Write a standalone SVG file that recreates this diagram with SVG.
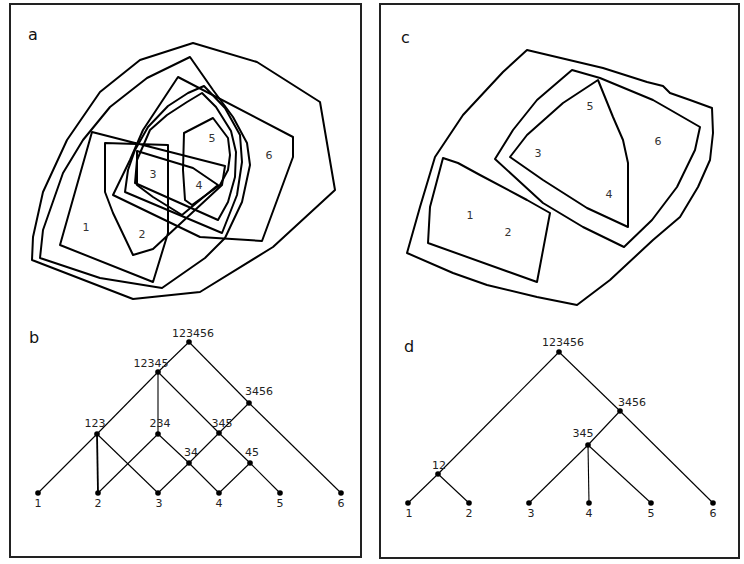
<svg xmlns="http://www.w3.org/2000/svg" width="744" height="564" viewBox="0 0 744 564">
<style>
.frame{fill:none;stroke:#222;stroke-width:2}
.poly{fill:none;stroke:#000;stroke-width:2;stroke-linejoin:round}
.edge{stroke:#000;stroke-width:1.1;fill:none}
.dot{fill:#000}
.pl{font-family:"DejaVu Sans",sans-serif;font-size:16px;fill:#111}
.num{font-family:"DejaVu Sans",sans-serif;font-size:11px;fill:#333;text-anchor:middle}
.tl{font-family:"DejaVu Sans",sans-serif;font-size:11px;fill:#222;text-anchor:middle}
</style>
<rect width="744" height="564" fill="#fff"/>
<rect class="frame" x="10" y="4" width="351" height="553"/>
<rect class="frame" x="380" y="4" width="359" height="554"/>

<!-- Panel a -->
<g id="panel-a">
<text class="pl" x="28" y="40">a</text>
<g id="a-set-123456"><path class="poly" d="M32,260 L33,237 L43,192 L67,140 L100,92 L140,60 L193,43 L257,62 L320,102 L335,190 L273,247 L200,292 L133,299 Z"/></g>
<g id="a-set-12345"><path class="poly" d="M40,258 L43,230 L63,173 L83,140 L110,107 L147,78 L190,57 L213,90 L233,117 L247,143 L250,165 L242,202 L225,238 L205,258 L162,288 L100,278 Z"/></g>
<g id="a-set-3456"><path class="poly" d="M178,77 L293,137 L293,157 L262,241 L200,237 L113,195 L130,160 L143,130 Z"/></g>
<g id="a-set-345"><path class="poly" d="M204,86 L225,108 L240,135 L242,162 L237,195 L222,233 L125,192 L128,170 L135,150 L148,127 L168,106 L188,93 Z"/></g>
<g id="a-set-345b"><path class="poly" d="M202,93 L216,107 L231,131 L236,152 L235,177 L228,202 L218,220 L135,183 L137,160 L150,130 L167,115 L187,102 Z"/></g>
<g id="a-set-123-234"><path class="poly" d="M105,143 L168,145 L168,233 L153,282 L60,245 L92,132 L225,166 L222,185 L153,249 L133,255 L113,213 L105,192 Z"/></g>
<g id="a-set-34"><path class="poly" d="M137,151 L193,168 L218,185 L182,215 L153,197 L137,185 Z"/></g>
<g id="a-set-45"><path class="poly" d="M184,133 L213,118 L228,138 L230,155 L228,170 L220,185 L192,205 L185,200 L183,170 Z"/></g>
<text class="num" x="86" y="231">1</text>
<text class="num" x="142" y="238">2</text>
<text class="num" x="153" y="178">3</text>
<text class="num" x="199" y="189">4</text>
<text class="num" x="212" y="142">5</text>
<text class="num" x="269" y="159">6</text>
</g>

<!-- Panel b -->
<g id="panel-b">
<text class="pl" x="29" y="343">b</text>
<g id="b-edges">
<line class="edge" x1="189" y1="342" x2="158" y2="372"/>
<line class="edge" x1="189" y1="342" x2="249" y2="403"/>
<line class="edge" x1="249" y1="403" x2="341" y2="493"/>
<line class="edge" x1="249" y1="403" x2="219" y2="433"/>
<line class="edge" x1="158" y1="372" x2="97" y2="434"/>
<line class="edge" x1="158" y1="372" x2="158" y2="434"/>
<line class="edge" x1="158" y1="372" x2="219" y2="433"/>
<line class="edge" x1="97" y1="434" x2="38" y2="493"/>
<line class="edge" x1="97" y1="434" x2="98" y2="493" style="stroke-width:1.8"/>
<line class="edge" x1="97" y1="434" x2="158" y2="493"/>
<line class="edge" x1="158" y1="434" x2="98" y2="493"/>
<line class="edge" x1="158" y1="434" x2="189" y2="463"/>
<line class="edge" x1="219" y1="433" x2="189" y2="463"/>
<line class="edge" x1="219" y1="433" x2="250" y2="463"/>
<line class="edge" x1="189" y1="463" x2="158" y2="493"/>
<line class="edge" x1="189" y1="463" x2="219" y2="493"/>
<line class="edge" x1="250" y1="463" x2="219" y2="493"/>
<line class="edge" x1="250" y1="463" x2="280" y2="493"/>
</g>
<g id="b-n123456"><circle class="dot" cx="189" cy="342" r="2.8"/><text class="tl" x="193" y="337">123456</text></g>
<g id="b-n12345"><circle class="dot" cx="158" cy="372" r="2.8"/><text class="tl" x="151" y="367">12345</text></g>
<g id="b-n3456"><circle class="dot" cx="249" cy="403" r="2.8"/><text class="tl" x="259" y="395">3456</text></g>
<g id="b-n123"><circle class="dot" cx="97" cy="434" r="2.8"/><text class="tl" x="95" y="427">123</text></g>
<g id="b-n234"><circle class="dot" cx="158" cy="434" r="2.8"/><text class="tl" x="160" y="427">234</text></g>
<g id="b-n345"><circle class="dot" cx="219" cy="433" r="2.8"/><text class="tl" x="222" y="427">345</text></g>
<g id="b-n34"><circle class="dot" cx="189" cy="463" r="2.8"/><text class="tl" x="191" y="456">34</text></g>
<g id="b-n45"><circle class="dot" cx="250" cy="463" r="2.8"/><text class="tl" x="252" y="456">45</text></g>
<g id="b-n1"><circle class="dot" cx="38" cy="493" r="2.8"/><text class="tl" x="38" y="507">1</text></g>
<g id="b-n2"><circle class="dot" cx="98" cy="493" r="2.8"/><text class="tl" x="98" y="507">2</text></g>
<g id="b-n3"><circle class="dot" cx="158" cy="493" r="2.8"/><text class="tl" x="159" y="507">3</text></g>
<g id="b-n4"><circle class="dot" cx="219" cy="493" r="2.8"/><text class="tl" x="219" y="507">4</text></g>
<g id="b-n5"><circle class="dot" cx="280" cy="493" r="2.8"/><text class="tl" x="280" y="507">5</text></g>
<g id="b-n6"><circle class="dot" cx="341" cy="493" r="2.8"/><text class="tl" x="341" y="507">6</text></g>
</g>

<!-- Panel c -->
<g id="panel-c">
<text class="pl" x="401" y="43">c</text>
<g id="c-set-123456"><path class="poly" d="M527,50 L603,68 L647,82 L663,86 L670,93 L690,100 L712,108 L713,133 L710,160 L698,187 L680,217 L653,240 L610,280 L577,305 L537,297 L487,285 L453,273 L407,253 L420,207 L435,157 L463,115 L503,72 Z"/></g>
<g id="c-set-3456"><path class="poly" d="M572,70 L600,78 L653,100 L667,108 L700,127 L695,150 L677,187 L652,220 L624,247 L583,227 L543,203 L495,159 L513,130 L537,100 Z"/></g>
<g id="c-set-345"><path class="poly" d="M598,80 L613,117 L623,140 L628,163 L628,227 L587,208 L543,180 L510,157 L527,135 L563,103 Z"/></g>
<g id="c-set-12"><path class="poly" d="M443,158 L458,163 L480,175 L527,200 L550,213 L537,282 L428,243 L430,207 Z"/></g>
<text class="num" x="590" y="110">5</text>
<text class="num" x="538" y="157">3</text>
<text class="num" x="658" y="145">6</text>
<text class="num" x="609" y="198">4</text>
<text class="num" x="470" y="219">1</text>
<text class="num" x="508" y="236">2</text>
</g>

<!-- Panel d -->
<g id="panel-d">
<text class="pl" x="404" y="352">d</text>
<g id="d-edges">
<line class="edge" x1="559" y1="352" x2="438" y2="474"/>
<line class="edge" x1="559" y1="352" x2="620" y2="411"/>
<line class="edge" x1="620" y1="411" x2="713" y2="503"/>
<line class="edge" x1="620" y1="411" x2="588" y2="445"/>
<line class="edge" x1="588" y1="445" x2="529" y2="503"/>
<line class="edge" x1="588" y1="445" x2="589" y2="503"/>
<line class="edge" x1="588" y1="445" x2="651" y2="503"/>
<line class="edge" x1="438" y1="474" x2="408" y2="503"/>
<line class="edge" x1="438" y1="474" x2="469" y2="503"/>
</g>
<g id="d-n123456"><circle class="dot" cx="559" cy="352" r="2.8"/><text class="tl" x="563" y="346">123456</text></g>
<g id="d-n3456"><circle class="dot" cx="620" cy="411" r="2.8"/><text class="tl" x="632" y="406">3456</text></g>
<g id="d-n345"><circle class="dot" cx="588" cy="445" r="2.8"/><text class="tl" x="583" y="437">345</text></g>
<g id="d-n12"><circle class="dot" cx="438" cy="474" r="2.8"/><text class="tl" x="439" y="469">12</text></g>
<g id="d-n1"><circle class="dot" cx="408" cy="503" r="2.8"/><text class="tl" x="409" y="517">1</text></g>
<g id="d-n2"><circle class="dot" cx="469" cy="503" r="2.8"/><text class="tl" x="469" y="517">2</text></g>
<g id="d-n3"><circle class="dot" cx="529" cy="503" r="2.8"/><text class="tl" x="531" y="517">3</text></g>
<g id="d-n4"><circle class="dot" cx="589" cy="503" r="2.8"/><text class="tl" x="589" y="517">4</text></g>
<g id="d-n5"><circle class="dot" cx="651" cy="503" r="2.8"/><text class="tl" x="651" y="517">5</text></g>
<g id="d-n6"><circle class="dot" cx="713" cy="503" r="2.8"/><text class="tl" x="713" y="517">6</text></g>
</g>
</svg>
